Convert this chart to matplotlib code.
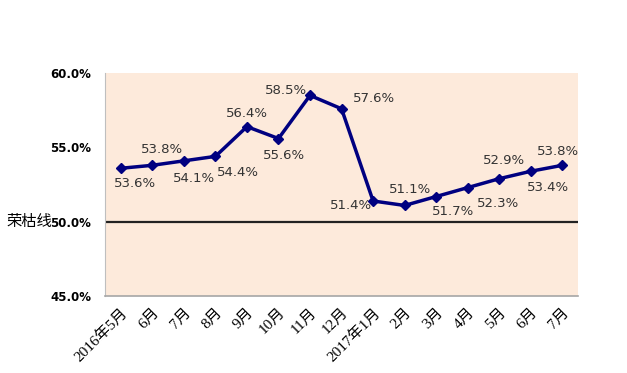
import numpy as np
import matplotlib.pyplot as plt

plt.rcParams['font.family'] = ['DejaVu Sans', 'Noto Sans CJK SC']

# data
months = ['2016年5月', '6月', '7月', '8月', '9月', '10月', '11月', '12月',
          '2017年1月', '2月', '3月', '4月', '5月', '6月', '7月']
pmi = [53.6, 53.8, 54.1, 54.4, 56.4, 55.6, 58.5, 57.6,
       51.4, 51.1, 51.7, 52.3, 52.9, 53.4, 53.8]
yticks = [45, 50, 55, 60]
# label offsets in pixels (dx, dy)
label_off = [(14, -15), (10, 16), (10, -18), (23, -16), (0, 13), (6, -17),
             (-24, 5), (32, 10), (-22, -5), (5, 16), (17, -15), (30, -16),
             (5, 18), (17, -16), (-4, 14)]

fig = plt.figure(figsize=(6.27, 3.73), dpi=100)
ax = fig.add_axes([0.1675, 0.206, 0.7545, 0.598])
ax.set_facecolor('#FDEADB')

x = np.arange(len(months))
ax.plot(x, pmi, color='#000080', lw=2.5, marker='D', ms=5.5, zorder=3)
ax.axhline(50, color='#222222', lw=1.6, zorder=2)

for xi, v, (dx, dy) in zip(x, pmi, label_off):
    ax.annotate(f'{v:.1f}%', (xi, v), xytext=(dx, dy), textcoords='offset pixels',
                ha='center', va='center', fontsize=9.5, color='#333333')

ax.set_xlim(-0.5, len(months) - 0.5)
ax.set_ylim(45, 60)
ax.set_yticks(yticks)
ax.set_yticklabels([f'{t:.1f}%' for t in yticks], fontsize=8.5, fontweight='bold')
ax.tick_params(axis='y', length=0, pad=10)

# label for the boom-bust line, left of the 50% tick
ax.annotate('荣枯线', (0, 50), xycoords=('figure fraction', 'data'),
            xytext=(52 / 627, 0), textcoords=('figure fraction', 'offset pixels'),
            ha='right', va='center', fontsize=11, family=['Noto Sans CJK SC'])

ax.set_xticks(x)
ax.set_xticklabels(months, rotation=45, ha='right', rotation_mode='anchor',
                   fontsize=11, family=['Liberation Serif', 'Noto Sans CJK SC'])
ax.tick_params(axis='x', length=0, pad=7)

for s in ['top', 'right']:
    ax.spines[s].set_visible(False)
ax.spines['left'].set_color('#bfbfbf')
ax.spines['bottom'].set_color('#a6a6a6')
ax.spines['bottom'].set_linewidth(1.2)

fig.savefig('out.png', dpi=100)
